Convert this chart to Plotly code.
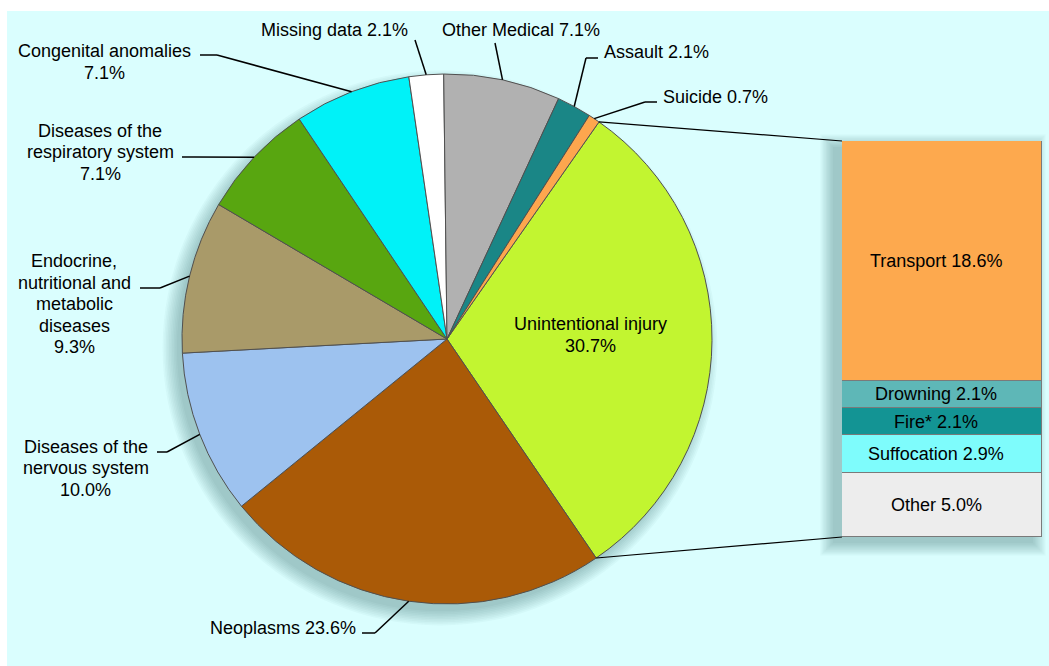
import math
import plotly.graph_objects as go

W, H = 1049, 666

# Underlying cause of death, per cent of all deaths
causes = [
    "Unintentional injury",
    "Neoplasms",
    "Diseases of the nervous system",
    "Endocrine, nutritional and metabolic diseases",
    "Diseases of the respiratory system",
    "Congenital anomalies",
    "Missing data",
    "Other Medical",
    "Assault",
    "Suicide",
]
shares = [30.7, 23.6, 10.0, 9.3, 7.1, 7.1, 2.1, 7.1, 2.1, 0.7]

# Breakdown of unintentional injury
injury_types = ["Transport", "Drowning", "Fire*", "Suffocation", "Other"]
injury_shares = [18.6, 2.1, 2.1, 2.9, 5.0]

cause_colors = ["#C2F530", "#AA5A07", "#9DC2EF", "#A99A69", "#58A610",
                "#00F2F8", "#FFFFFF", "#B1B1B1", "#1A8686", "#FDA64E"]
injury_colors = ["#FDA94E", "#5EB7B7", "#139494", "#7EFCFC", "#EDEDED"]

FONT = "Liberation Sans, Arial, sans-serif"
FS = 18
LINE_H = 21.5

# Geometry in pixels (y measured from the top)
CX, CY, R = 447, 339, 265
ROTATION = 35
BAR_X0, BAR_X1, BAR_Y0, BAR_Y1 = 842, 1042, 141, 537
PANEL_X0, PANEL_Y0 = 7, 11


def fx(px):
    return px / W


def fy(py):
    return 1 - py / H


def rim(angle_deg, r=R):
    a = math.radians(angle_deg)
    return CX + r * math.sin(a), CY - r * math.cos(a)


total = sum(shares)
starts, acc = [], 0.0
for v in shares:
    starts.append(ROTATION + acc / total * 360)
    acc += v
mids = [s + v / total * 180 for s, v in zip(starts, shares)]

# Label text layout: (wrapped name, separator before the value)
label_text = {
    "Unintentional injury": ("Unintentional injury", "\n"),
    "Neoplasms": ("Neoplasms", " "),
    "Diseases of the nervous system": ("Diseases of the\nnervous system", "\n"),
    "Endocrine, nutritional and metabolic diseases":
        ("Endocrine,\nnutritional and\nmetabolic\ndiseases", "\n"),
    "Diseases of the respiratory system": ("Diseases of the\nrespiratory system", "\n"),
    "Congenital anomalies": ("Congenital anomalies", "\n"),
    "Missing data": ("Missing data", " "),
    "Other Medical": ("Other Medical", " "),
    "Assault": ("Assault", " "),
    "Suicide": ("Suicide", " "),
}

# Label placement: anchor x, block centre y, x anchor, leader points from the label towards the rim
label_place = {
    "Neoplasms": (358, 628, "right", [(362, 633), (375, 633)]),
    "Diseases of the nervous system": (86, 468, "center", [(157, 452), (167, 452)]),
    "Endocrine, nutritional and metabolic diseases": (74, 304, "center", [(140, 288), (160, 288)]),
    "Diseases of the respiratory system": (100, 152, "center", [(182, 157), (194, 157)]),
    "Congenital anomalies": (104, 62, "center", [(200, 55), (217, 55)]),
    "Missing data": (334, 30, "center", [(415, 40)]),
    "Other Medical": (521, 30, "center", [(495, 43)]),
    "Assault": (602, 52, "left", [(598, 58), (586, 58)]),
    "Suicide": (661, 97, "left", [(657, 102), (645, 102)]),
}

fig = go.Figure()

fig.add_trace(go.Pie(
    labels=causes,
    values=shares,
    sort=False,
    direction="clockwise",
    rotation=ROTATION,
    marker=dict(colors=cause_colors, line=dict(color="#505050", width=1)),
    textinfo="none",
    hoverinfo="label+percent",
    showlegend=False,
    domain=dict(x=[fx(CX - R), fx(CX + R)], y=[fy(CY + R), fy(CY - R)]),
))

base = 0.0
bar_mids = []
for name, v, col in zip(injury_types, injury_shares, injury_colors):
    fig.add_trace(go.Bar(
        x=[0], y=[v], width=1, name=name,
        marker=dict(color=col, line=dict(color="#7a7a7a", width=1)),
        showlegend=False, hoverinfo="name+y",
    ))
    bar_mids.append(base + v / 2)
    base += v

shapes = [
    dict(type="rect", xref="paper", yref="paper",
         x0=fx(PANEL_X0), x1=1, y0=0, y1=fy(PANEL_Y0),
         fillcolor="#DAFEFE", line=dict(width=0), layer="below"),
]

# soft drop shadows, falling to the lower left
for k in range(10):
    r = R - 2 + k * 1.6
    sx, sy = CX - 7, CY + 9
    shapes.append(dict(type="circle", xref="paper", yref="paper",
                       x0=fx(sx - r), x1=fx(sx + r), y0=fy(sy + r), y1=fy(sy - r),
                       fillcolor="rgba(40,95,95,0.04)", line=dict(width=0), layer="below"))
for k in range(10):
    e = k * 1.4
    sx, sy = -9, 6
    shapes.append(dict(type="rect", xref="paper", yref="paper",
                       x0=fx(BAR_X0 + sx - e), x1=fx(BAR_X1 + sx + e),
                       y0=fy(BAR_Y1 + sy + e), y1=fy(BAR_Y0 + sy - e),
                       fillcolor="rgba(40,95,95,0.04)", line=dict(width=0), layer="below"))


def seg(p, q, width=1.5):
    return dict(type="line", xref="paper", yref="paper",
                x0=fx(p[0]), y0=fy(p[1]), x1=fx(q[0]), y1=fy(q[1]),
                line=dict(color="black", width=width), layer="above")


annotations = []


def add_text(lines, x, yc, xanchor):
    n = len(lines)
    for i, ln in enumerate(lines):
        y = yc + (i - (n - 1) / 2) * LINE_H
        annotations.append(dict(
            text=ln, x=fx(x), y=fy(y),
            xref="paper", yref="paper", xanchor=xanchor, yanchor="middle",
            showarrow=False, font=dict(family=FONT, size=FS, color="black"),
        ))


for name, v, mid in zip(causes, shares, mids):
    txt, sep = label_text[name]
    lines = (txt + sep + f"{v:.1f}%").split("\n")
    if name in label_place:
        x, yc, xa, pts = label_place[name]
        add_text(lines, x, yc, xa)
        path = pts + [rim(mid)]
        for p, q in zip(path[:-1], path[1:]):
            shapes.append(seg(p, q))
    else:
        x, yc = rim(mid, R * 0.54)
        add_text(lines, x, yc - 5, "center")

# connectors from the injury slice to the breakdown bar
shapes.append(seg(rim(starts[0]), (BAR_X0, BAR_Y0), 1.2))
shapes.append(seg(rim(starts[0] + shares[0] / total * 360), (BAR_X0, BAR_Y1), 1.2))

# labels on the breakdown bar
for name, v, ym in zip(injury_types, injury_shares, bar_mids):
    annotations.append(dict(
        text=f"{name} {v:.1f}%", x=-0.03, y=ym, xref="x", yref="y",
        xanchor="center", yanchor="middle", showarrow=False,
        font=dict(family=FONT, size=FS, color="black"),
    ))

fig.update_layout(
    width=W, height=H,
    margin=dict(l=0, r=0, t=0, b=0),
    paper_bgcolor="white",
    plot_bgcolor="rgba(0,0,0,0)",
    barmode="stack",
    bargap=0,
    xaxis=dict(domain=[fx(BAR_X0), fx(BAR_X1)], range=[-0.5, 0.5], visible=False, fixedrange=True),
    yaxis=dict(domain=[fy(BAR_Y1), fy(BAR_Y0)], range=[sum(injury_shares), 0], visible=False, fixedrange=True),
    shapes=shapes,
    annotations=annotations,
    font=dict(family=FONT, size=FS, color="black"),
)

fig.write_html("out.html")
